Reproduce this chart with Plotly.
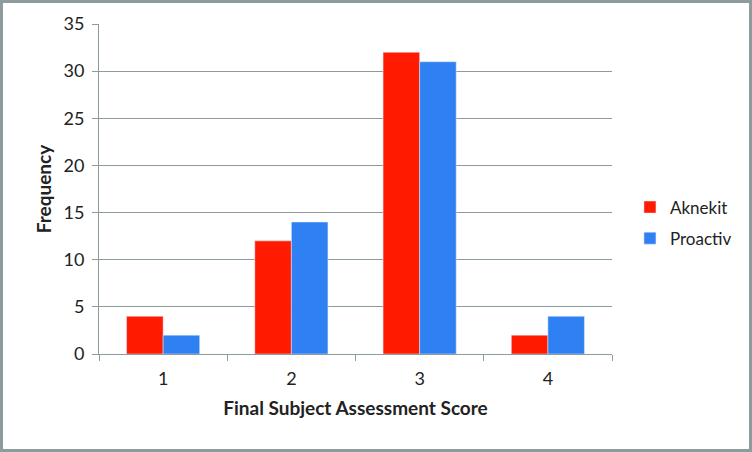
import plotly.graph_objects as go

# data
scores = ["1", "2", "3", "4"]
aknekit = [4, 12, 32, 2]
proactiv = [2, 14, 31, 4]

W, H = 752, 452
ml, mr, mt, mb = 99, 140, 24, 98
pw, ph = W - ml - mr, H - mt - mb

grid_col = "#8c9c9c"
font_family = "Lato, 'Open Sans', sans-serif"

fig = go.Figure()
fig.add_trace(go.Bar(x=scores, y=aknekit, name="Aknekit", marker_color="#ff1a00",
                     legendgroup="a"))
fig.add_trace(go.Bar(x=scores, y=proactiv, name="Proactiv", marker_color="#2f80f2",
                     legendgroup="p"))

# outer chart border (in paper coords, reaching into the margins)
fig.add_shape(
    type="rect", xref="paper", yref="paper",
    x0=(1.5 - ml) / pw, x1=(W - 1.5 - ml) / pw,
    y0=-(mb - 1.5) / ph, y1=1 + (mt - 1.5) / ph,
    line=dict(color="#8c9c9c", width=3), layer="above",
)

fig.update_layout(
    width=W, height=H,
    margin=dict(l=ml, r=mr, t=mt, b=mb, autoexpand=False),
    paper_bgcolor="white", plot_bgcolor="white",
    barmode="group", bargap=0.43, bargroupgap=0,
    font=dict(family=font_family, size=18, color="#222"),
    legend=dict(x=1.035, y=0.397, xanchor="left", yanchor="middle",
                font=dict(size=17), traceorder="grouped", tracegroupgap=6,
                itemwidth=30),
    showlegend=True,
)
fig.update_xaxes(
    title=dict(text="<b>Final Subject Assessment Score</b>", standoff=14, font=dict(size=19)),
    showline=True, linecolor=grid_col, linewidth=1,
    ticks="outside", ticklen=6, tickcolor=grid_col, tickson="boundaries",
    ticklabelstandoff=8,
    showgrid=False, tickfont=dict(size=18),
)
fig.update_yaxes(
    title=dict(text="<b>Frequency</b>", standoff=6, font=dict(size=19)),
    range=[0, 35], dtick=5,
    showline=True, linecolor=grid_col, linewidth=1,
    ticks="outside", ticklen=6, tickcolor=grid_col,
    ticklabelstandoff=4,
    showgrid=True, gridcolor=grid_col, gridwidth=1,
    zeroline=False, tickfont=dict(size=18),
)

fig.write_html("out.html", config={"displayModeBar": False},
               post_script="document.body.style.margin='0';")
